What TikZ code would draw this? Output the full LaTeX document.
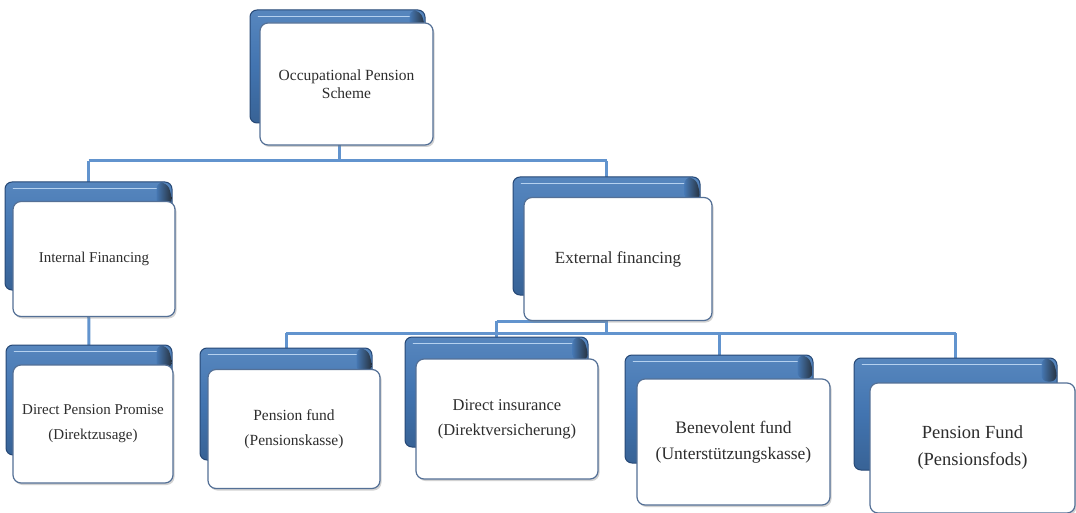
\documentclass[tikz,border=0pt]{standalone}
\usepackage{fontspec}
\setmainfont{Liberation Serif}
\usetikzlibrary{shadows,backgrounds}
\definecolor{linkc}{RGB}{98,148,206}
\definecolor{backc}{RGB}{66,116,176}
\definecolor{backtop}{RGB}{150,190,232}
\definecolor{backdark}{RGB}{38,72,118}
\definecolor{frontborder}{RGB}{84,112,150}
\definecolor{txt}{RGB}{45,45,45}
\tikzset{
  backbox/.style={draw=backdark, line width=1pt, rounded corners=7pt,
    top color=backc!75!backtop, bottom color=backc!85!black, middle color=backc, inner sep=0pt},
  frontbox/.style={draw=frontborder, line width=1.2pt, fill=white, rounded corners=8pt,
    drop shadow={shadow xshift=1.5pt, shadow yshift=-2pt, opacity=.35},
    align=center, text=txt, inner sep=2pt},
  link/.style={draw=linkc, line width=3pt},
  hilite/.style={draw=backtop!70!white, line width=1.8pt, line cap=round},
}
\newcommand{\backbox}[5]{%
  \node[backbox, minimum width=#4pt, minimum height=#5pt] (#1) at (#2,#3) {};
  \draw[hilite] ([xshift=9pt,yshift=-7pt]#1.north west) -- ([xshift=-16pt,yshift=-7pt]#1.north east);
  \shade[right color=black!90, left color=backc, opacity=.75, rounded corners=6pt]
    ([xshift=-16pt,yshift=-1pt]#1.north east) -- ([xshift=-6pt,yshift=-1pt]#1.north east)
    -- ([xshift=-1pt,yshift=-12pt]#1.north east) -- ([xshift=-1pt,yshift=-24pt]#1.north east)
    -- ([xshift=-16pt,yshift=-24pt]#1.north east) -- cycle;
}
\begin{document}
\begin{tikzpicture}[x=1pt,y=-1pt]
\useasboundingbox (0,0) rectangle (1076,513);
\begin{scope}[on background layer]
  \fill[white] (0,0) rectangle (1076,513);
\end{scope}

% back boxes
\backbox{topB}{337.5}{66.5}{175}{113}
\backbox{intB}{88.5}{236}{167}{108}
\backbox{extB}{606.5}{236}{187}{118}
\backbox{dppB}{89}{400}{166}{110}
\backbox{pfB}{286}{404}{172}{112}
\backbox{diB}{496.5}{392}{183}{110}
\backbox{bfB}{719}{409}{188}{108}
\backbox{pfundB}{955.5}{414}{203}{112}

% front boxes
\node[frontbox, minimum width=173pt, minimum height=122pt, font=\fontsize{15.5}{18}\selectfont]
  (topF) at (346.5,84) {Occupational Pension\\Scheme};
\node[frontbox, minimum width=162pt, minimum height=115pt, font=\fontsize{15}{18}\selectfont]
  (intF) at (94,259) {Internal Financing};
\node[frontbox, minimum width=188pt, minimum height=123pt, font=\fontsize{17}{20}\selectfont]
  (extF) at (618,259) {External financing};
\node[frontbox, minimum width=160pt, minimum height=118pt, font=\fontsize{15}{25}\selectfont]
  (dppF) at (93,424) {Direct Pension Promise\\(Direktzusage)};
\node[frontbox, minimum width=172pt, minimum height=119pt, font=\fontsize{15.5}{25}\selectfont]
  (pfF) at (294,429) {Pension fund\\(Pensionskasse)};
\node[frontbox, minimum width=182pt, minimum height=120pt, font=\fontsize{16.5}{25}\selectfont]
  (diF) at (507,419) {Direct insurance\\(Direktversicherung)};
\node[frontbox, minimum width=193pt, minimum height=126pt, font=\fontsize{17.5}{26}\selectfont]
  (bfF) at (733.5,442) {Benevolent fund\\(Unterstützungskasse)};
\node[frontbox, minimum width=205pt, minimum height=130pt, font=\fontsize{18.5}{27}\selectfont]
  (pfundF) at (972.5,448) {Pension Fund\\(Pensionsfods)};

% junction coordinates
\coordinate (j1) at (339,161);
\coordinate (j2) at (603,333);
\coordinate (j3) at (603,321);

\begin{scope}[on background layer]
  \draw[link] (topB.center -| j1) -- (j1);
  \draw[link] (intB.center |- j1) -- (extB.center |- j1);
  \draw[link] (intB.center |- j1) -- (intB.center);
  \draw[link] (extB.center |- j1) -- (extB.center);
  \draw[link] (intB.center) -- (dppB.center);
  \draw[link] (extB.center) -- (extB.center |- j2);
  \draw[link] (pfB.center |- j2) -- (pfundB.center |- j2);
  \draw[link] (pfB.center |- j2) -- (pfB.center);
  \draw[link] (diB.center |- j3) -- (diB.center);
  \draw[link] (diB.center |- j3) -- (extB.center |- j3);
  \draw[link] (bfB.center |- j2) -- (bfB.center);
  \draw[link] (pfundB.center |- j2) -- (pfundB.center);
\end{scope}
\end{tikzpicture}
\end{document}
